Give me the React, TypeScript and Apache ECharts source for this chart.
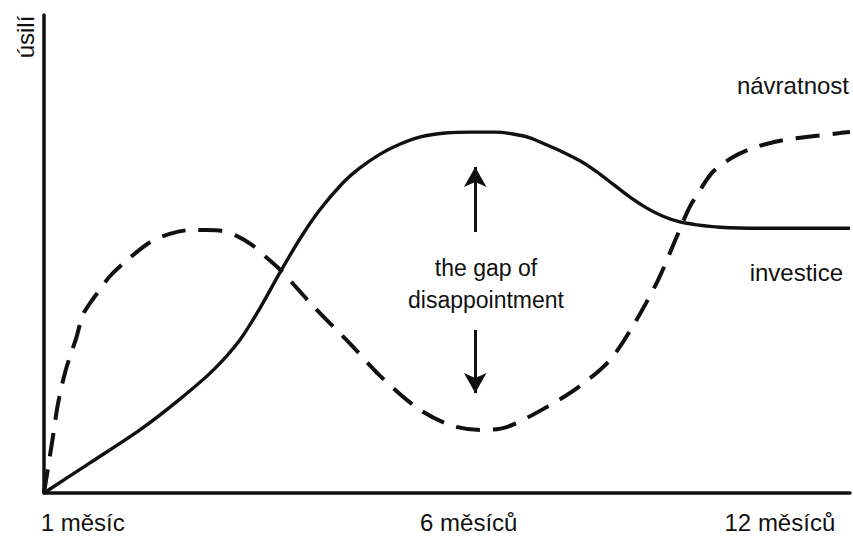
import React, { useEffect, useRef } from "react";
import * as echarts from "echarts";

// time (0–100 % of the year) and effort (0–100)
const investiceX = [0, 5.7, 11.9, 16.9, 21.0, 24.3, 26.8, 29.3, 31.8, 34.2, 37.1, 39.2, 41.7, 44.2, 46.7, 49.8, 52.9, 56.0, 58.2, 60.3, 62.4, 64.4, 66.5, 68.6, 70.6, 72.7, 74.8, 76.8, 78.9, 81.0, 83.9, 88.8, 100];
const investiceY = [0, 6.3, 13.2, 19.7, 25.7, 32.0, 38.7, 46.2, 53.3, 59.2, 64.9, 68.0, 70.9, 73.0, 74.5, 75.3, 75.5, 75.5, 75.1, 74.3, 72.8, 71.3, 69.5, 67.2, 64.6, 61.9, 59.6, 57.9, 56.7, 56.1, 55.6, 55.4, 55.4];

const navratnostX = [0, 1.1, 1.6, 2.0, 2.6, 3.2, 4.0, 4.8, 5.7, 6.6, 8.2, 10.3, 13.2, 15.6, 18.1, 20.2, 22.1, 23.9, 25.8, 27.5, 29.3, 33.4, 38.0, 41.7, 46.3, 50.4, 54.1, 57.4, 62.4, 66.5, 70.2, 73.3, 76.2, 78.5, 80.1, 81.4, 83.0, 85.5, 88.0, 91.7, 98.8, 100];
const navratnostY = [0, 11.7, 17.4, 20.9, 25.1, 28.5, 32.4, 37.2, 39.7, 41.8, 45.4, 48.7, 52.5, 54.2, 55.0, 55.0, 54.8, 53.8, 51.9, 49.4, 46.7, 39.1, 31.2, 24.5, 17.8, 14.2, 13.2, 13.8, 18.0, 22.4, 27.8, 35.6, 44.6, 53.6, 59.8, 63.4, 67.2, 70.3, 72.2, 73.8, 75.3, 75.5];

const xTickValues = [4.8, 52.7, 91.3];
const xTickLabels = ["1 měsíc", "6 měsíců", "12 měsíců"];

// gap arrows: [x, fromY, toY]
const gapArrows = [
  [53.5, 54.6, 68.2],
  [53.5, 34.1, 20.9],
];

const FONT = "Liberation Sans, Arial, Helvetica, sans-serif";
const INK = "#111";

export default function App() {
  const ref = useRef<HTMLDivElement>(null);
  useEffect(() => {
    if (!ref.current) return;
    const chart = echarts.init(ref.current, undefined, { renderer: "svg" });
    const pairs = (xs: number[], ys: number[]) => xs.map((x, i) => [x, ys[i]]);
    chart.setOption({
      animation: false,
      backgroundColor: "#fff",
      grid: { left: 44, right: 3, top: 15, bottom: 43 },
      xAxis: {
        type: "value",
        min: 0,
        max: 100,
        axisLine: { show: true, onZero: false, lineStyle: { color: INK, width: 3.5 } },
        axisTick: { show: false },
        splitLine: { show: false },
        axisLabel: {
          customValues: xTickValues,
          margin: 17,
          color: INK,
          fontSize: 24,
          fontFamily: FONT,
          formatter: (v: number) => {
            let best = 0;
            xTickValues.forEach((t, i) => {
              if (Math.abs(t - v) < Math.abs(xTickValues[best] - v)) best = i;
            });
            return xTickLabels[best];
          },
        },
      },
      yAxis: {
        type: "value",
        min: 0,
        max: 100,
        axisLine: { show: true, onZero: false, lineStyle: { color: INK, width: 3.5 } },
        axisTick: { show: false },
        axisLabel: { show: false },
        splitLine: { show: false },
      },
      series: [
        {
          name: "investice",
          type: "line",
          smooth: 0.3,
          showSymbol: false,
          symbol: "none",
          lineStyle: { color: INK, width: 3.4 },
          data: pairs(investiceX, investiceY),
          markLine: {
            silent: true,
            symbol: ["none", "arrow"],
            symbolSize: [17, 20],
            label: { show: false },
            lineStyle: { color: INK, width: 3, type: "solid" },
            data: gapArrows.map((a) => [{ coord: [a[0], a[1]] }, { coord: [a[0], a[2]] }]),
          },
        },
        {
          name: "návratnost",
          type: "line",
          smooth: 0.3,
          showSymbol: false,
          symbol: "none",
          lineStyle: { color: INK, width: 4, type: [24, 13] },
          data: pairs(navratnostX, navratnostY),
        },
      ],
      graphic: [
        {
          type: "text",
          x: 25,
          y: 37,
          rotation: Math.PI / 2,
          style: { text: "úsilí", font: `24px ${FONT}`, fill: INK, align: "center", verticalAlign: "middle" },
        },
        {
          type: "text",
          x: 849,
          y: 85,
          style: { text: "návratnost", font: `24px ${FONT}`, fill: INK, align: "right", verticalAlign: "middle" },
        },
        {
          type: "text",
          x: 843,
          y: 272,
          style: { text: "investice", font: `24px ${FONT}`, fill: INK, align: "right", verticalAlign: "middle" },
        },
        {
          type: "text",
          x: 486,
          y: 268,
          style: { text: "the gap of", font: `23px ${FONT}`, fill: INK, align: "center", verticalAlign: "middle" },
        },
        {
          type: "text",
          x: 486,
          y: 300,
          style: { text: "disappointment", font: `23px ${FONT}`, fill: INK, align: "center", verticalAlign: "middle" },
        },
      ],
    });
    return () => chart.dispose();
  }, []);
  return (
    <div
      ref={ref}
      style={{ position: "fixed", left: 0, top: 0, width: 853, height: 536, background: "#fff" }}
    />
  );
}
